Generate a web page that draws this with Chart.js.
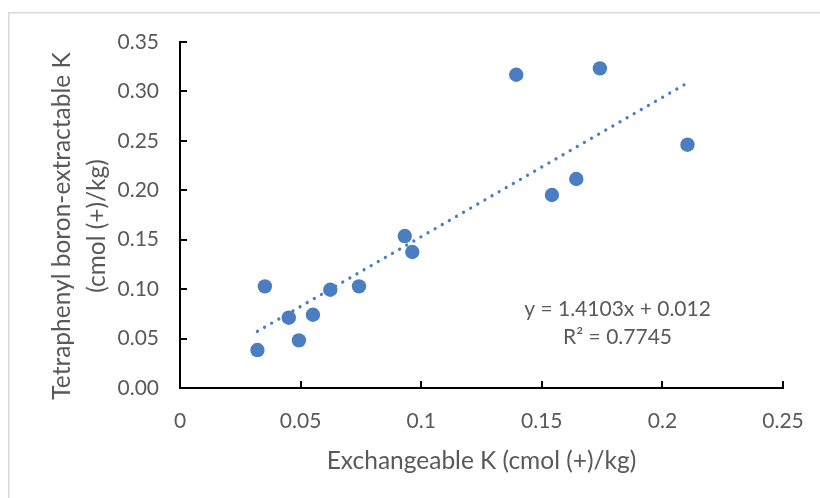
<!DOCTYPE html>
<html>
<head>
<meta charset="utf-8">
<script src="https://cdn.jsdelivr.net/npm/chart.js@4.4.0/dist/chart.umd.min.js"></script>
<style>
html,body{margin:0;padding:0;background:#fff;}
#wrap{position:relative;width:820px;height:498px;}
</style>
</head>
<body>
<div id="wrap"><canvas id="c" width="820" height="498"></canvas></div>
<script>
// ---- data ----
const exchangeableK = [0.0321, 0.0352, 0.0451, 0.0493, 0.0551, 0.0623, 0.0742, 0.0932, 0.0963, 0.1394, 0.1542, 0.1643, 0.1741, 0.2104];
const tpbExtractableK = [0.0384, 0.1028, 0.0711, 0.0482, 0.0741, 0.0994, 0.1028, 0.1537, 0.1376, 0.3169, 0.1952, 0.2114, 0.3233, 0.2461];
const trendX = [0.0321, 0.2104];
const trendY = [0.0573, 0.3087];
const xTickLabels = ['0', '0.05', '0.1', '0.15', '0.2', '0.25'];
const yTickLabels = ['0.00', '0.05', '0.10', '0.15', '0.20', '0.25', '0.30', '0.35'];
const equationLines = ['y = 1.4103x + 0.012', 'R\u00B2 = 0.7745'];
const xTitle = 'Exchangeable K (cmol (+)/kg)';
const yTitle = ['Tetraphenyl boron-extractable K', '(cmol (+)/kg)'];

const FONT = 'Lato, "Open Sans", sans-serif';
const TEXT = '#595959';
const BLUE = '#4A7EC1';

const decor = {
  id: 'decor',
  beforeDraw(chart) {
    const ctx = chart.ctx;
    ctx.save();
    ctx.fillStyle = '#fff';
    ctx.fillRect(0, 0, chart.width, chart.height);
    ctx.strokeStyle = '#d9d9d9';
    ctx.lineWidth = 1.5;
    ctx.strokeRect(8.75, 12.75, chart.width + 20, chart.height + 20);
    ctx.restore();
  },
  afterDraw(chart) {
    const ctx = chart.ctx;
    const xs = chart.scales.x, ys = chart.scales.y;
    const area = chart.chartArea;
    ctx.save();
    // inward tick marks
    ctx.strokeStyle = '#000';
    ctx.lineWidth = 2;
    ctx.beginPath();
    xs.ticks.forEach(t => {
      const px = Math.round(xs.getPixelForValue(t.value));
      ctx.moveTo(px, ys.bottom);
      ctx.lineTo(px, ys.bottom - 7);
    });
    ys.ticks.forEach(t => {
      const py = Math.round(ys.getPixelForValue(t.value));
      ctx.moveTo(xs.left, py);
      ctx.lineTo(xs.left + 7, py);
    });
    ctx.stroke();
    // y-axis title (two lines, rotated)
    ctx.fillStyle = TEXT;
    ctx.font = '24.5px ' + FONT;
    ctx.textAlign = 'center';
    ctx.textBaseline = 'middle';
    ctx.save();
    ctx.translate(62, (area.top + area.bottom) / 2 + 11);
    ctx.rotate(-Math.PI / 2);
    yTitle.forEach((s, i) => ctx.fillText(s, 0, i * 35));
    ctx.restore();
    // trendline equation
    ctx.font = '21px ' + FONT;
    const cx = xs.getPixelForValue(0.1814);
    const cy = ys.getPixelForValue(0.0792);
    equationLines.forEach((s, i) => ctx.fillText(s, cx, cy + i * 28));
    ctx.restore();
  }
};

new Chart(document.getElementById('c'), {
  type: 'scatter',
  data: {
    datasets: [
      {
        type: 'line',
        label: 'Linear trend',
        data: trendX.map((x, i) => ({x: x, y: trendY[i]})),
        borderColor: BLUE,
        borderWidth: 3.3,
        borderDash: [0.01, 8.2],
        borderCapStyle: 'round',
        pointRadius: 0,
        fill: false,
        order: 0
      },
      {
        label: 'Samples',
        data: exchangeableK.map((x, i) => ({x: x, y: tpbExtractableK[i]})),
        backgroundColor: BLUE,
        borderColor: BLUE,
        borderWidth: 0,
        pointRadius: 7.2,
        pointHoverRadius: 7.2,
        order: 1
      }
    ]
  },
  options: {
    responsive: false,
    animation: false,
    devicePixelRatio: 1,
    layout: { padding: { left: 0, top: 42, right: 37, bottom: 0 } },
    plugins: { legend: { display: false }, tooltip: { enabled: false } },
    scales: {
      x: {
        type: 'linear',
        min: 0, max: 0.25,
        afterFit(s) { s.height = 110; },
        grid: { display: false },
        border: { display: true, color: '#000', width: 2 },
        ticks: {
          stepSize: 0.05,
          padding: 13,
          color: TEXT,
          font: { family: FONT, size: 21 },
          maxRotation: 0,
          callback: (v, i) => xTickLabels[i]
        },
        title: {
          display: true,
          text: xTitle,
          color: TEXT,
          font: { family: FONT, size: 24.5 },
          padding: { top: 0, bottom: 22 }
        }
      },
      y: {
        type: 'linear',
        min: 0, max: 0.35,
        afterFit(s) { s.width = 180; },
        grid: { display: false },
        border: { display: true, color: '#000', width: 2 },
        ticks: {
          stepSize: 0.05,
          padding: 13,
          color: TEXT,
          font: { family: FONT, size: 21 },
          callback: (v, i) => yTickLabels[i]
        },
        title: { display: false }
      }
    }
  },
  plugins: [decor]
});
</script>
</body>
</html>
